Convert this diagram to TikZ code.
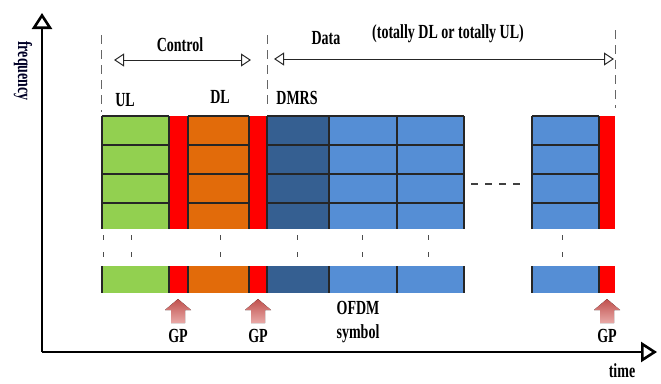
\documentclass[tikz,border=0pt]{standalone}
\usepackage{fontspec}
\setmainfont{Liberation Serif}[FakeStretch=0.70]
\usetikzlibrary{arrows.meta}
\definecolor{cgreen}{HTML}{92D050}
\definecolor{cred}{HTML}{FF0000}
\definecolor{corange}{HTML}{E26B0A}
\definecolor{cdblue}{HTML}{355F91}
\definecolor{cblue}{HTML}{558ED5}
\definecolor{cgp}{HTML}{C0504D}
\definecolor{cgplight}{HTML}{E8A9A7}
\begin{document}
\begin{tikzpicture}[x=1pt,y=-1pt,
  lbl/.style={font=\bfseries\fontsize{20}{22}\selectfont, inner sep=0pt},
  cell/.style={draw=black!85, line width=1.1pt},
  sep/.style={draw=black!60, dash pattern=on 9pt off 6pt, line width=1pt},
  tick/.style={draw=black!70, dash pattern=on 5pt off 12pt, line width=1pt},
  span/.style={draw=black!85, line width=1pt, {Triangle[open,length=10pt,width=13pt]}-{Triangle[open,length=10pt,width=13pt]}},
  axis/.style={line width=2.6pt, -{Triangle[open,length=16pt,width=20pt,line width=2.6pt]}},
  gparrow/.style={top color=cgp, bottom color=cgplight, draw=none}
]
\useasboundingbox (0,0) rectangle (661,383);

% axes
\coordinate (O) at (42,352);
\coordinate (Ytip) at (42,13);
\coordinate (Xtip) at (657,352);
\draw[axis] (O) -- (Ytip);
\draw[axis] (O) -- (Xtip);
\node[lbl, rotate=-90, text=black!85!blue] (freq) at (23,71) {frequency};
\node[lbl] (time) at (622,371) {time};

% top row fills
\def\rtop{116}\def\rbot{229}
\fill[cgreen]  (102,\rtop) rectangle (169,\rbot);
\fill[cred]    (169,\rtop) rectangle (188,\rbot);
\fill[corange] (188,\rtop) rectangle (249,\rbot);
\fill[cred]    (249,\rtop) rectangle (267,\rbot);
\fill[cdblue]  (267,\rtop) rectangle (329,\rbot);
\fill[cblue]   (329,\rtop) rectangle (464,\rbot);
\fill[cblue]   (532,\rtop) rectangle (599,\rbot);
\fill[cred]    (599,\rtop) rectangle (615,\rbot);
% grid lines
\foreach \a/\b in {102/169,188/249,267/329,329/397,397/464,532/599}{
  \foreach \y in {116,145,174,203}{
    \draw[cell] (\a,\y) -- (\b,\y);
  }
}
\foreach \x in {102,169,188,249,267,329,397,464,532,599}{
  \draw[cell] (\x,116) -- (\x,229);
}

% bottom row
\def\btop{266}\def\bbot{293}
\fill[cgreen]  (102,\btop) rectangle (169,\bbot);
\fill[cred]    (169,\btop) rectangle (188,\bbot);
\fill[corange] (188,\btop) rectangle (249,\bbot);
\fill[cred]    (249,\btop) rectangle (267,\bbot);
\fill[cdblue]  (267,\btop) rectangle (329,\bbot);
\fill[cblue]   (329,\btop) rectangle (464,\bbot);
\fill[cblue]   (532,\btop) rectangle (599,\bbot);
\fill[cred]    (599,\btop) rectangle (615,\bbot);
\foreach \x in {102,169,188,249,267,329,397,464,532,599}{
  \draw[cell] (\x,\btop) -- (\x,\bbot);
}

% vertical continuation ticks
\foreach \x in {103,131,220,297,362,428,562}{
  \draw[tick] (\x,235) -- (\x,259);
}
% horizontal continuation dashes
\draw[draw=black!75, line width=1.2pt, dash pattern=on 7pt off 7pt] (471,184) -- (522,184);

% separators
\coordinate (s1a) at (101,35);  \coordinate (s1b) at (101,112);
\coordinate (s2a) at (267,35);  \coordinate (s2b) at (267,110);
\coordinate (s3a) at (615,30);  \coordinate (s3b) at (615,108);
\draw[sep] (s1a) -- (s1b);
\draw[sep] (s2a) -- (s2b);
\draw[sep] (s3a) -- (s3b);

% spans
\coordinate (c1) at (114,60); \coordinate (c2) at (251,60);
\coordinate (d1) at (274,59); \coordinate (d2) at (614,59);
\draw[span] (c1) -- (c2);
\draw[span] (d1) -- (d2);
\node[lbl] (control) at (180,45) {Control};
\node[lbl] (data) at (326,38) {Data};
\node[lbl] (totally) at (448,34) {(totally DL or totally UL)};
\node[lbl] (ul) at (125,100) {UL};
\node[lbl] (dl) at (220,97) {DL};
\node[lbl] (dmrs) at (297,98) {DMRS};

% GP arrows
\foreach \n/\x in {g1/178,g2/258,g3/607}{
  \fill[gparrow] (\x-7,323) -- (\x-7,310) -- (\x-13,310) -- (\x,299) -- (\x+13,310) -- (\x+7,310) -- (\x+7,323) -- cycle;
  \coordinate (\n) at (\x,323);
}
\node[lbl, below=6pt] (gp1) at (g1) {GP};
\node[lbl, below=6pt] (gp2) at (g2) {GP};
\node[lbl, below=6pt] (gp3) at (g3) {GP};
\node[lbl, align=center, font=\bfseries\fontsize{20}{24}\selectfont] (ofdm) at (358,322) {OFDM\\symbol};
\end{tikzpicture}
\end{document}
